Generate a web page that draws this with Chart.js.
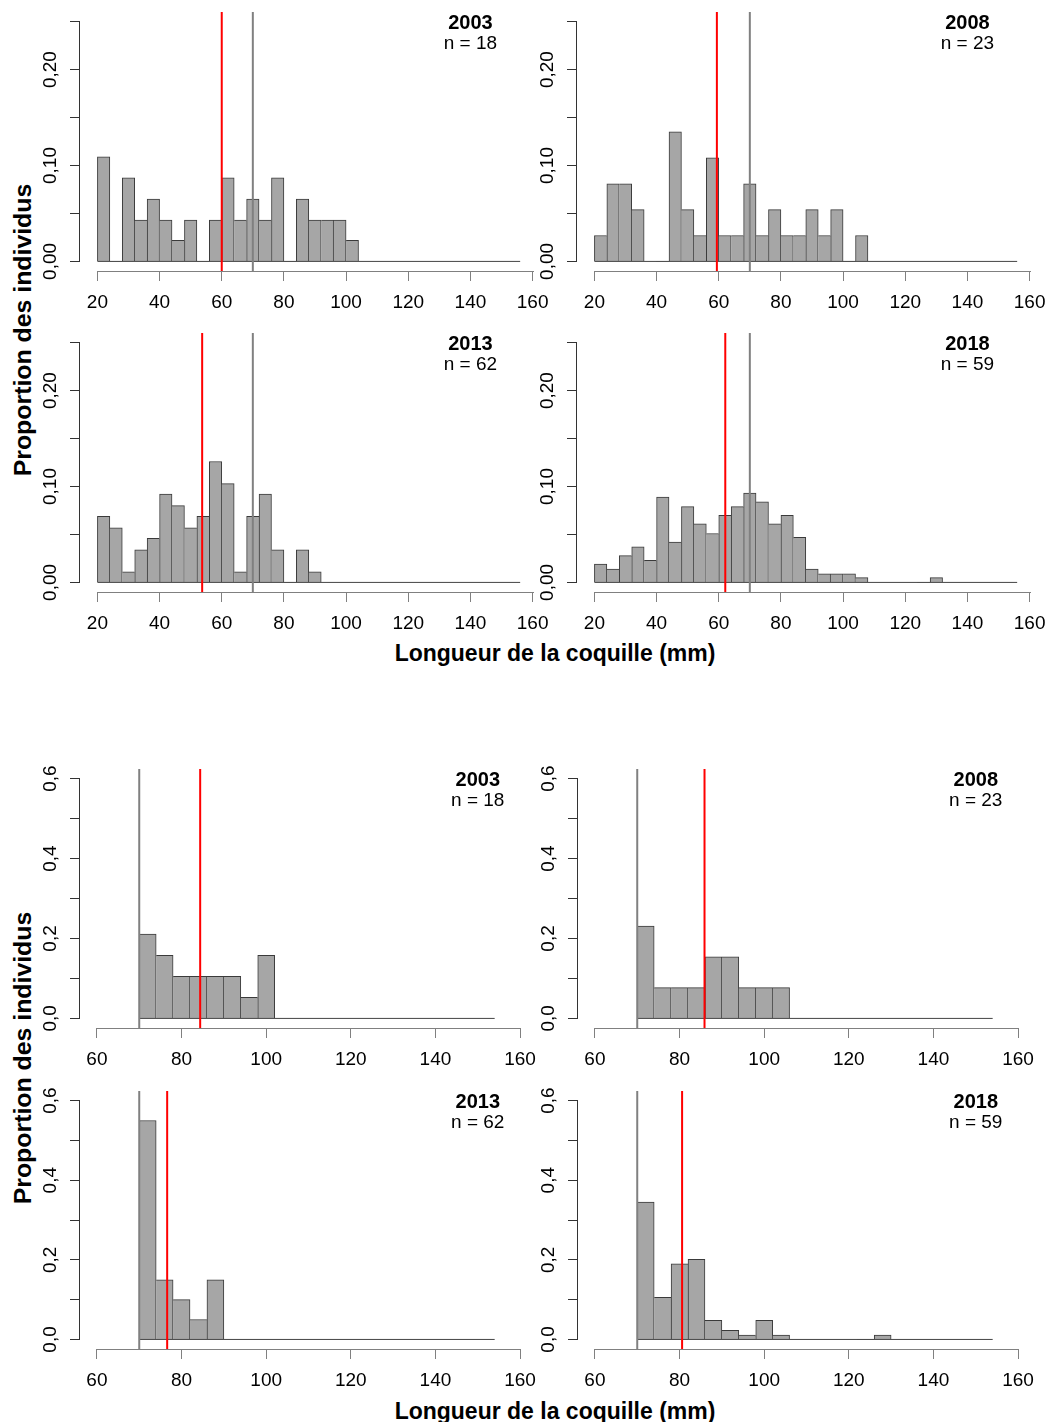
<!DOCTYPE html>
<html>
<head>
<meta charset="utf-8">
<script src="https://cdn.jsdelivr.net/npm/chart.js@4.4.1/dist/chart.umd.min.js"></script>
<style>
  html, body { margin: 0; padding: 0; background: #fff; overflow: hidden; }
  body { width: 1049px; height: 1422px; position: relative; font-family: "Liberation Sans", Arial, sans-serif; }
  canvas { position: absolute; }
  .xtitle, .ytitle { position: absolute; font-weight: bold; white-space: nowrap; color: #000; }
  .xtitle { font-size: 23px; transform: translate(-50%, -50%) scaleY(1.06); }
  .ytitle { font-size: 23px; transform: translate(-50%, -50%) rotate(-90deg) scaleX(1.08); }
</style>
</head>
<body>
<div class="xtitle" style="left:555px; top:653px">Longueur de la coquille (mm)</div>
<div class="xtitle" style="left:555px; top:1411px">Longueur de la coquille (mm)</div>
<div class="ytitle" style="left:23px; top:330px">Proportion des individus</div>
<div class="ytitle" style="left:23px; top:1058px">Proportion des individus</div>
<script>
// ---------- data ----------
const years = ['2003', '2008', '2013', '2018'];
const nObs = [18, 23, 62, 59];

// all sizes (bins of 4 mm, 20 -> 156)
const breaksAll = [20, 24, 28, 32, 36, 40, 44, 48, 52, 56, 60, 64, 68, 72, 76, 80, 84, 88,
  92, 96, 100, 104, 108, 112, 116, 120, 124, 128, 132, 136, 140, 144, 148, 152, 156];
const all2003 = [0.109, 0, 0.087, 0.043, 0.065, 0.043, 0.022, 0.043, 0, 0.043, 0.087, 0.043,
  0.065, 0.043, 0.087, 0, 0.065, 0.043, 0.043, 0.043, 0.022, 0, 0, 0, 0, 0, 0, 0, 0, 0, 0, 0, 0, 0];
const all2008 = [0.027, 0.081, 0.081, 0.054, 0, 0, 0.135, 0.054, 0.027, 0.108, 0.027, 0.027,
  0.081, 0.027, 0.054, 0.027, 0.027, 0.054, 0.027, 0.054, 0, 0.027, 0, 0, 0, 0, 0, 0, 0, 0, 0, 0, 0, 0];
const all2013 = [0.069, 0.057, 0.011, 0.034, 0.046, 0.092, 0.080, 0.057, 0.069, 0.126, 0.103, 0.011,
  0.069, 0.092, 0.034, 0, 0.034, 0.011, 0, 0, 0, 0, 0, 0, 0, 0, 0, 0, 0, 0, 0, 0, 0, 0];
const all2018 = [0.019, 0.014, 0.028, 0.037, 0.023, 0.089, 0.042, 0.079, 0.061, 0.051, 0.070, 0.079,
  0.093, 0.084, 0.061, 0.070, 0.047, 0.014, 0.009, 0.009, 0.009, 0.005, 0, 0, 0, 0, 0, 0.005, 0, 0, 0, 0, 0, 0];
const meanAll = [60, 59.4, 53.7, 62.1];

// legal sizes only (bins of 4 mm, 70 -> 154)
const breaksLegal = [70, 74, 78, 82, 86, 90, 94, 98, 102, 106, 110, 114, 118, 122, 126, 130,
  134, 138, 142, 146, 150, 154];
const legal2003 = [0.211, 0.158, 0.105, 0.105, 0.105, 0.105, 0.053, 0.158, 0, 0, 0, 0, 0, 0, 0, 0, 0, 0, 0, 0, 0];
const legal2008 = [0.231, 0.077, 0.077, 0.077, 0.154, 0.154, 0.077, 0.077, 0.077, 0, 0, 0, 0, 0, 0, 0, 0, 0, 0, 0, 0];
const legal2013 = [0.55, 0.15, 0.10, 0.05, 0.15, 0, 0, 0, 0, 0, 0, 0, 0, 0, 0, 0, 0, 0, 0, 0, 0];
const legal2018 = [0.345, 0.106, 0.190, 0.201, 0.048, 0.023, 0.011, 0.048, 0.011, 0, 0, 0, 0, 0, 0.011, 0, 0, 0, 0, 0, 0];
const meanLegal = [84.4, 85.9, 76.6, 80.6];

const legalSize = 70;

const xTicksAll = [20, 40, 60, 80, 100, 120, 140, 160];
const xTicksLegal = [60, 80, 100, 120, 140, 160];
const yTicksAll = [0, 0.05, 0.10, 0.15, 0.20, 0.25];
const yLabelsAll = ['0,00', '', '0,10', '', '0,20', ''];
const yTicksLegal = [0, 0.1, 0.2, 0.3, 0.4, 0.5, 0.6];
const yLabelsLegal = ['0,0', '', '0,2', '', '0,4', '', '0,6'];

// ---------- layout ----------
const FONT = '"Liberation Sans", Arial, sans-serif';
const groupAll = { breaks: breaksAll, xLim: [14.4, 165.6], yLim: [-0.01, 0.26], xTicks: xTicksAll,
  yTicks: yTicksAll, yLabels: yLabelsAll, annX: 140, annY: 0.25, labPad: 1 };
const groupLegal = { breaks: breaksLegal, xLim: [56, 164], yLim: [-0.024, 0.624], xTicks: xTicksLegal,
  yTicks: yTicksLegal, yLabels: yLabelsLegal, annX: 150, annY: 0.6, labPad: 6 };

const panels = [
  { g: groupAll, k: 0, values: all2003, mean: meanAll[0], left: 80, top: 12, w: 470, h: 259 },
  { g: groupAll, k: 1, values: all2008, mean: meanAll[1], left: 577, top: 12, w: 470, h: 259 },
  { g: groupAll, k: 2, values: all2013, mean: meanAll[2], left: 80, top: 333, w: 470, h: 259 },
  { g: groupAll, k: 3, values: all2018, mean: meanAll[3], left: 577, top: 333, w: 470, h: 259 },
  { g: groupLegal, k: 0, values: legal2003, mean: meanLegal[0], left: 80, top: 769, w: 457, h: 259 },
  { g: groupLegal, k: 1, values: legal2008, mean: meanLegal[1], left: 578, top: 769, w: 457, h: 259 },
  { g: groupLegal, k: 2, values: legal2013, mean: meanLegal[2], left: 80, top: 1091, w: 457, h: 258 },
  { g: groupLegal, k: 3, values: legal2018, mean: meanLegal[3], left: 578, top: 1091, w: 457, h: 258 }
];

const PAD_L = 80, PAD_T = 20, PAD_R = 25, PAD_B = 50;

// R-like axes (line only between first and last tick) + year / n text
const rAxes = {
  id: 'rAxes',
  afterDraw(chart, args, opts) {
    const { ctx, scales: { x, y } } = chart;
    const xt = x.ticks, yt = y.ticks;
    ctx.save();
    ctx.lineWidth = 1;
    ctx.strokeStyle = '#808080';
    const yb = Math.round(x.top) + 0.5;
    ctx.beginPath();
    ctx.moveTo(Math.round(x.getPixelForValue(xt[0].value)), yb);
    ctx.lineTo(Math.round(x.getPixelForValue(xt[xt.length - 1].value)) + 1, yb);
    ctx.stroke();
    ctx.strokeStyle = '#333';
    const xl = Math.round(y.right) - 0.5;
    ctx.beginPath();
    ctx.moveTo(xl, Math.round(y.getPixelForValue(yt[0].value)) + 1);
    ctx.lineTo(xl, Math.round(y.getPixelForValue(yt[yt.length - 1].value)));
    ctx.stroke();

    const ax = x.getPixelForValue(opts.annX), ay = y.getPixelForValue(opts.annY);
    ctx.fillStyle = '#000';
    ctx.textAlign = 'center';
    ctx.textBaseline = 'middle';
    ctx.font = 'bold 20px ' + FONT;
    ctx.fillText(opts.year, ax, ay + 2);
    ctx.font = '19px ' + FONT;
    ctx.fillText('n = ' + opts.n, ax, ay + 22);
    ctx.restore();
  }
};

function makePanel(p) {
  const g = p.g;
  const cv = document.createElement('canvas');
  cv.width = PAD_L + p.w + PAD_R;
  cv.height = PAD_T + p.h + PAD_B;
  cv.style.left = (p.left - PAD_L) + 'px';
  cv.style.top = (p.top - PAD_T) + 'px';
  document.body.appendChild(cv);

  const e = g.breaks;
  const v = p.values;
  const bars = v.map((val, i) => ({ x: (e[i] + e[i + 1]) / 2, y: val }));

  new Chart(cv, {
    type: 'bar',
    data: {
      datasets: [
        { type: 'line', data: [{ x: p.mean, y: g.yLim[0] }, { x: p.mean, y: g.yLim[1] }],
          borderColor: '#ff0000', borderWidth: 2, pointRadius: 0, order: 0 },
        { type: 'line', data: [{ x: legalSize, y: g.yLim[0] }, { x: legalSize, y: g.yLim[1] }],
          borderColor: '#808080', borderWidth: 2, pointRadius: 0, order: 1 },
        { type: 'line', data: [{ x: e[0], y: 0 }, { x: e[e.length - 1], y: 0 }],
          borderColor: '#444', borderWidth: 1, pointRadius: 0, order: 2 },
        { type: 'bar', data: bars, order: 3,
          backgroundColor: '#a6a6a6', borderColor: '#3a3a3a',
          barPercentage: 1, categoryPercentage: 1, borderSkipped: false,
          borderWidth: c => {
            const i = c.dataIndex;
            const prev = i > 0 ? v[i - 1] : 0, next = i < v.length - 1 ? v[i + 1] : 0;
            return { top: 1, bottom: 0, left: v[i] > prev ? 1 : 0, right: v[i] >= next ? 1 : 0 };
          } }
      ]
    },
    options: {
      responsive: false,
      animation: false,
      events: [],
      layout: { padding: { left: 0, top: PAD_T, right: PAD_R, bottom: 0 } },
      plugins: {
        legend: { display: false },
        tooltip: { enabled: false },
        rAxes: { year: years[p.k], n: nObs[p.k], annX: g.annX, annY: g.annY }
      },
      scales: {
        x: {
          type: 'linear', min: g.xLim[0], max: g.xLim[1], offset: false,
          afterBuildTicks: s => { s.ticks = g.xTicks.map(t => ({ value: t })); },
          afterFit: s => { s.height = PAD_B; },
          grid: { offset: false, drawOnChartArea: false, drawTicks: true, tickLength: 10, color: '#808080' },
          border: { display: false },
          ticks: { autoSkip: false, maxRotation: 0, minRotation: 0, padding: 10, color: '#000',
            font: { family: FONT, size: 19 }, callback: (val, i) => String(g.xTicks[i]) }
        },
        y: {
          type: 'linear', min: g.yLim[0], max: g.yLim[1],
          afterBuildTicks: s => { s.ticks = g.yTicks.map(t => ({ value: t })); },
          afterFit: s => { s.width = PAD_L; },
          grid: { drawOnChartArea: false, drawTicks: true, tickLength: 10, color: '#333' },
          border: { display: false },
          ticks: { autoSkip: false, minRotation: 90, maxRotation: 90, crossAlign: 'center',
            padding: g.labPad, color: '#000', font: { family: FONT, size: 19 },
            callback: (val, i) => g.yLabels[i] }
        }
      }
    },
    plugins: [rAxes]
  });
}

panels.forEach(makePanel);
</script>
</body>
</html>
